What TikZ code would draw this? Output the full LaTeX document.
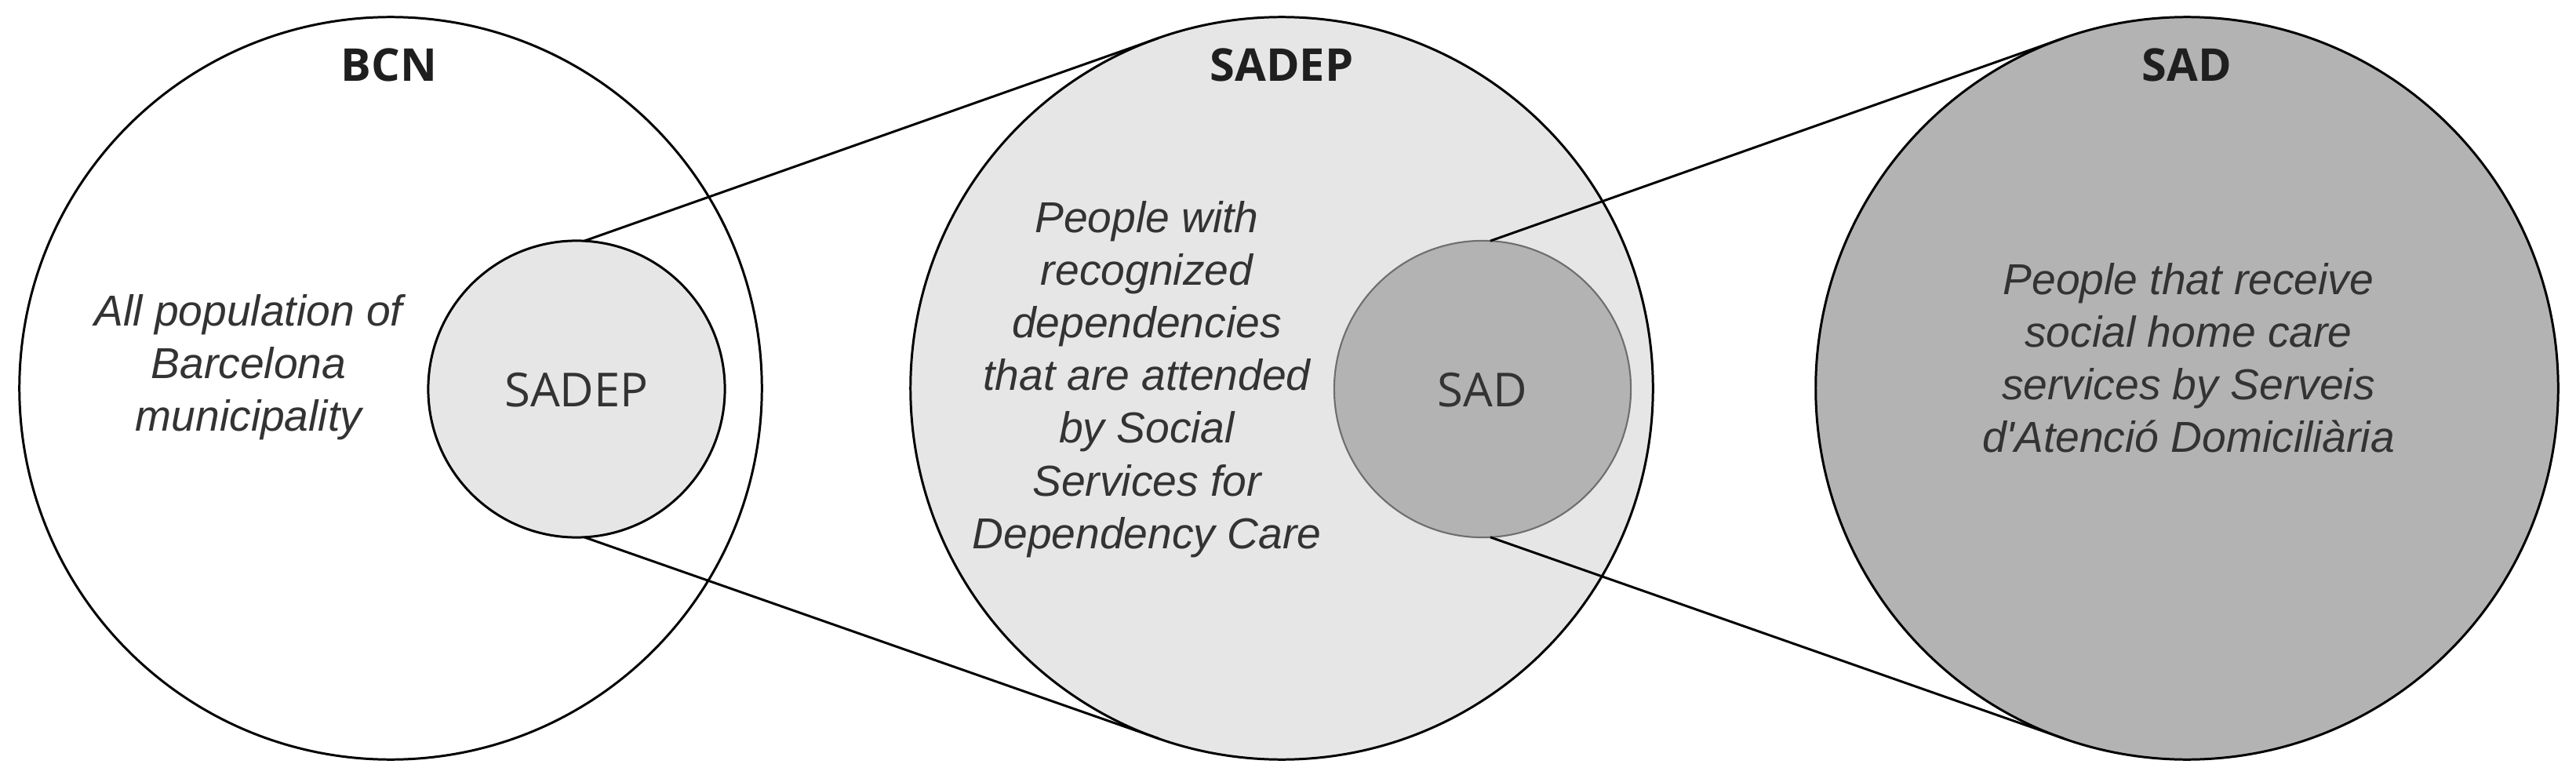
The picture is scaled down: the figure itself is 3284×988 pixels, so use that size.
\documentclass[tikz,border=0pt]{standalone}
\usepackage{fontspec}
\setmainfont{Liberation Sans}
\newfontfamily\titlefont{Open Sans}
\newfontfamily\descfont{Liberation Sans}
\usetikzlibrary{calc}
\definecolor{sadepfill}{HTML}{E6E6E6}
\definecolor{sadfill}{HTML}{B3B3B3}
\definecolor{txtgray}{HTML}{333333}
\definecolor{sadedge}{HTML}{6E6E6E}
\tikzset{
  bigcircle/.style={circle, draw=black, line width=0.85pt, minimum size=9.46cm, inner sep=0pt, outer sep=0pt},
  smallcircle/.style={circle, draw=black, line width=0.85pt, minimum size=3.78cm, inner sep=0pt, outer sep=0pt},
  titletext/.style={font=\titlefont\bfseries\fontsize{16.4pt}{19pt}\selectfont, text=black!88, inner sep=0pt, anchor=base},
  labeltext/.style={font=\titlefont\fontsize{17pt}{19pt}\selectfont, text=txtgray, inner sep=0pt, anchor=base},
  desctext/.style={font=\descfont\itshape\fontsize{15.7pt}{19.07pt}\selectfont, text=txtgray, align=center, inner sep=0pt, anchor=north},
  link/.style={draw=black, line width=0.85pt},
}
\begin{document}
\begin{tikzpicture}[x=0.01cm, y=-0.01cm]
\useasboundingbox (0,0) rectangle (3284,988);
% big circles
\node[bigcircle] (bcn) at (498,495) {};
\node[bigcircle, fill=sadepfill] (sadepbig) at (1634,495) {};
\node[bigcircle, fill=sadfill] (sadbig) at (2788,495) {};
% small circles
\node[smallcircle, fill=sadepfill] (sadepsmall) at (735,496) {};
\node[smallcircle, fill=sadfill, draw=sadedge, line width=0.6pt] (sadsmall) at (1890,496) {};
% connectors
\draw[link] (sadepsmall.87) -- (tangent cs:node=sadepbig, point={(sadepsmall.87)}, solution=2);
\draw[link] (sadepsmall.-87) -- (tangent cs:node=sadepbig, point={(sadepsmall.-87)}, solution=1);
\draw[link] (sadsmall.87) -- (tangent cs:node=sadbig, point={(sadsmall.87)}, solution=2);
\draw[link] (sadsmall.-87) -- (tangent cs:node=sadbig, point={(sadsmall.-87)}, solution=1);
% titles
\node[titletext] (bcnt) at (496,104) {BCN};
\node[titletext] (sadept) at (1634,104) {SADEP};
\node[titletext] (sadt) at (2788,104) {SAD};
% small labels
\node[labeltext] (sadepl) at (735,518) {SADEP};
\node[labeltext] (sadl) at (1890,518) {SAD};
% descriptions
\node[desctext] (bcnd) at (317,375) {All population of\\Barcelona\\municipality};
\node[desctext] (sadepd) at (1462,256) {People with\\recognized\\dependencies\\that are attended\\by Social\\Services for\\Dependency Care};
\node[desctext] (sadd) at (2790,335) {People that receive\\social home care\\services by Serveis\\d'Atenció Domiciliària};
\end{tikzpicture}
\end{document}
